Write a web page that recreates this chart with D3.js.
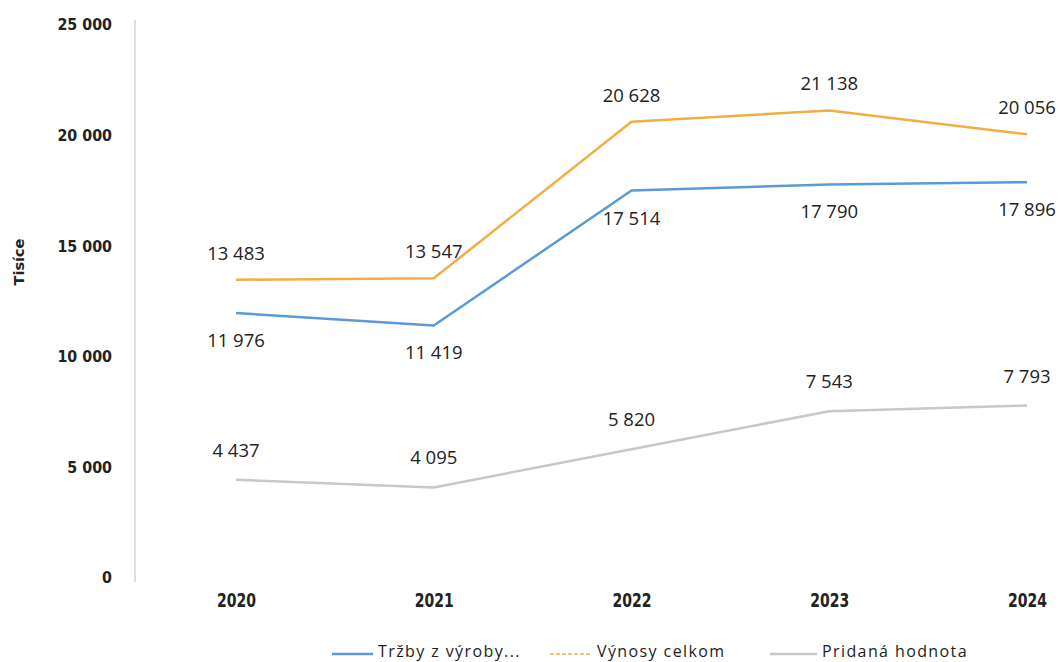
<!DOCTYPE html>
<html>
<head>
<meta charset="utf-8">
<script src="https://cdn.jsdelivr.net/npm/d3@7"></script>
<style>
  html, body { margin: 0; padding: 0; background: #fff; }
  svg { display: block; }
</style>
</head>
<body>
<svg id="chart" width="1064" height="662"></svg>
<script>
const years = ["2020", "2021", "2022", "2023", "2024"];
const trzby = [11976, 11419, 17514, 17790, 17896];
const vynosy = [13483, 13547, 20628, 21138, 20056];
const pridana = [4437, 4095, 5820, 7543, 7793];
const yTicks = [0, 5000, 10000, 15000, 20000, 25000];
const seriesNames = ["Tržby z výroby...", "Výnosy celkom", "Pridaná hodnota"];
const yTitle = "Tisíce";

const svg = d3.select("#chart");
const x = d3.scalePoint().domain(years).range([236, 1027]);
const y = d3.scaleLinear().domain([0, 25000]).range([578, 25]);

const fmt = v => d3.format(",")(v).replace(/,/g, " ");

// axis line
svg.append("line")
  .attr("x1", 135).attr("x2", 135)
  .attr("y1", 20).attr("y2", 582)
  .attr("stroke", "#d4d4d4").attr("stroke-width", 1.5);

// y axis labels
const yAxis = d3.axisLeft(y).tickValues(yTicks).tickSize(0).tickPadding(0).tickFormat(fmt);
const gy = svg.append("g").attr("transform", "translate(112,0)").call(yAxis);
gy.select(".domain").remove();
gy.selectAll("text")
  .attr("font-family", "DejaVu Sans, sans-serif")
  .attr("font-weight", "bold")
  .attr("font-size", 15.5)
  .attr("fill", "#222")
  .each(function () {
    const w = this.getComputedTextLength();
    d3.select(this).attr("textLength", w * 0.92).attr("lengthAdjust", "spacingAndGlyphs");
  });

// x axis labels
const xAxis = d3.axisBottom(x).tickSize(0).tickPadding(0);
const gx = svg.append("g").attr("transform", "translate(0,593)").call(xAxis);
gx.select(".domain").remove();
gx.selectAll("text")
  .attr("font-family", "'DejaVu Sans', sans-serif")
  .attr("font-weight", "bold")
  .attr("font-size", 19.5)
  .attr("textLength", 39)
  .attr("lengthAdjust", "spacingAndGlyphs")
  .attr("fill", "#222");

// y title
svg.append("text")
  .attr("transform", "translate(24,262) rotate(-90)")
  .attr("text-anchor", "middle")
  .attr("font-family", "DejaVu Sans, sans-serif")
  .attr("font-weight", "bold")
  .attr("font-size", 14.5)
  .attr("fill", "#222")
  .text(yTitle);

const series = [
  { name: seriesNames[0], values: trzby, color: "#5b9bd5", dy: 34, dash: null },
  { name: seriesNames[1], values: vynosy, color: "#f2ae45", dy: -20, dash: "4,2" },
  { name: seriesNames[2], values: pridana, color: "#c8c8c8", dy: -23, dash: null }
];

const line = d3.line().x((d, i) => x(years[i])).y(d => y(d));

[series[2], series[0], series[1]].forEach(s => {
  svg.append("path")
    .datum(s.values)
    .attr("d", line)
    .attr("fill", "none")
    .attr("stroke", s.color)
    .attr("stroke-width", 2.5)
    .attr("stroke-linejoin", "round");
});

series.forEach(s => {
  svg.append("g").selectAll("text")
    .data(s.values)
    .join("text")
    .attr("x", (d, i) => x(years[i]))
    .attr("y", d => y(d) + s.dy)
    .attr("text-anchor", "middle")
    .attr("font-family", "'Open Sans', sans-serif")
    .attr("font-size", 18.5)
    .attr("fill", "#222")
    .text(d => fmt(d));
});

// legend
const legendX = [332, 550, 770];
const lg = svg.append("g");
series.forEach((s, i) => {
  lg.append("line")
    .attr("x1", legendX[i]).attr("x2", legendX[i] + (i === 2 ? 47 : 41))
    .attr("y1", 654).attr("y2", 654)
    .attr("stroke", s.color)
    .attr("stroke-width", s.dash ? 1.5 : 2.5)
    .attr("stroke-dasharray", s.dash);
  lg.append("text")
    .attr("x", legendX[i] + (i === 2 ? 52 : i === 1 ? 47 : 46))
    .attr("y", 657)
    .attr("font-family", "'Open Sans', sans-serif")
    .attr("font-size", 16)
    .attr("letter-spacing", 1.4)
    .attr("fill", "#222")
    .text(s.name);
});
</script>
</body>
</html>
